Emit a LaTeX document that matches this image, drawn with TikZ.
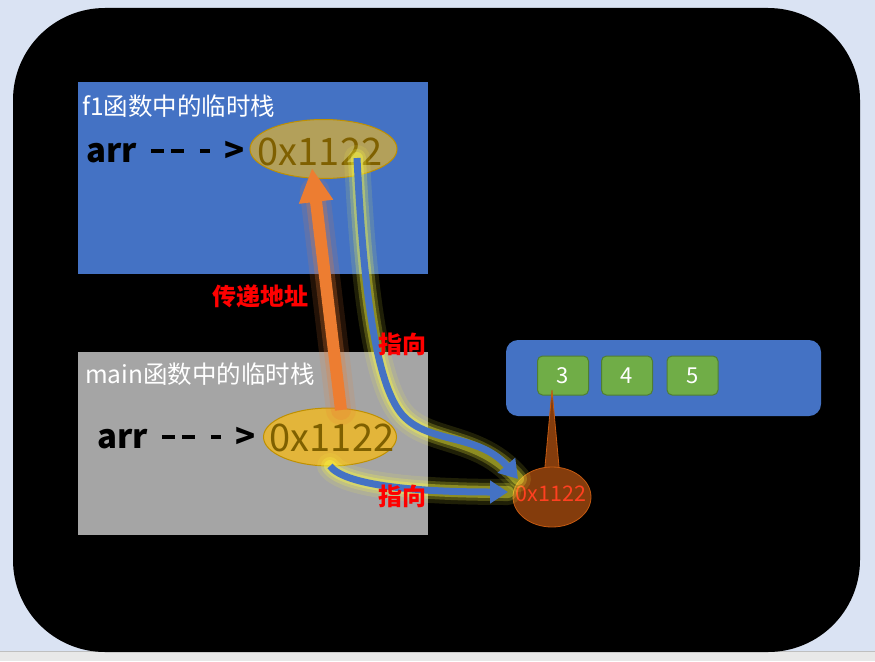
\documentclass[tikz,border=0pt]{standalone}
\usepackage{fontspec}
\setmainfont{Noto Sans CJK SC}
\usetikzlibrary{arrows.meta,shapes.geometric,calc}
\definecolor{bgblue}{HTML}{DAE3F3}
\definecolor{stackblue}{HTML}{4472C4}
\definecolor{stackgray}{HTML}{A5A5A5}
\definecolor{cellgreen}{HTML}{70AD47}
\definecolor{cellborder}{HTML}{507E32}
\definecolor{arrorange}{HTML}{ED7D31}
\definecolor{goldA}{HTML}{B3A05A}
\definecolor{goldB}{HTML}{E3B53A}
\definecolor{goldborder}{HTML}{BF9000}
\definecolor{olivetext}{HTML}{7F6000}
\definecolor{calloutbrown}{HTML}{843C0C}
\definecolor{calloutborder}{HTML}{C55A11}
\definecolor{callouttext}{HTML}{FF4020}
\definecolor{glowyellow}{HTML}{FFFF40}
\tikzset{
  stacklabel/.style={text=white, font=\fontsize{24.5}{27}\selectfont, anchor=west, inner sep=0pt},
  arrtext/.style={text=black, font=\bfseries\fontsize{33}{38}\selectfont, anchor=west, inner sep=0pt},
  addrell/.style={ellipse, draw=goldborder, line width=1pt, inner sep=0pt},
  addrtext/.style={text=olivetext, font=\fontsize{38}{42}\selectfont, inner sep=0pt},
  cellbox/.style={fill=cellgreen, draw=cellborder, line width=1pt, rounded corners=5pt, minimum width=51pt, minimum height=39pt, inner sep=0pt, text=white, font=\fontsize{22}{24}\selectfont},
  redlabel/.style={text=red, font=\bfseries\fontsize{24}{26}\selectfont, inner sep=0pt},
  bluearrow/.style={draw=stackblue, line width=7pt, -{Triangle[width=22pt,length=18pt]}},
  glowA/.style={draw=glowyellow, opacity=0.12, line width=26pt, line cap=round},
  glowB/.style={draw=glowyellow, opacity=0.22, line width=18pt, line cap=round},
  glowC/.style={draw=glowyellow, opacity=0.35, line width=12pt, line cap=round},
}
\newcommand{\dashbar}[1]{\raisebox{9.5pt}{\rule{#1}{3.6pt}}}
\newcommand{\arrdash}{arr\hspace{14pt}\dashbar{13pt}\hspace{7pt}\dashbar{13pt}\hspace{16pt}\dashbar{10pt}\hspace{15pt}>}
\begin{document}
\begin{tikzpicture}[x=1pt,y=-1pt]
\useasboundingbox (0,0) rectangle (875,661);
% page background
\fill[bgblue] (0,0) rectangle (875,661);
\fill[black!9] (0,651) rectangle (875,661);
\draw[black!25, line width=0.8pt] (0,651.5) -- (875,651.5);
% black slide
\fill[black, rounded corners=92pt] (13,8) rectangle (860,652);

% f1 stack
\fill[stackblue] (78,82) rectangle (428,274);
\node[stacklabel] (f1lab) at (82,106) {f1函数中的临时栈};
\node[arrtext] (f1arr) at (86,152) {\arrdash};
\node[addrell, fill=goldA, minimum width=147pt, minimum height=59pt] (f1ell) at (323.5,149) {};
\node[addrtext] (f1addr) at (320,152) {0x1122};

% main stack
\fill[stackgray] (78,352) rectangle (428,535);
\node[stacklabel] (mainlab) at (85,374) {main函数中的临时栈};
\node[arrtext] (mainarr) at (97,438) {\arrdash};
\node[addrell, fill=goldB, minimum width=133pt, minimum height=58pt] (mainell) at (330,437) {};
\node[addrtext] (mainaddr) at (332,438) {0x1122};

% array
\fill[stackblue, rounded corners=12pt] (506,340) rectangle (821,416);
\node[cellbox] (c3) at (563,375.5) {3};
\node[cellbox] (c4) at (627,375.5) {4};
\node[cellbox] (c5) at (692.5,375.5) {5};

% callout
\coordinate (ptip) at (552,390);
\fill[calloutbrown, draw=calloutborder, line width=0.8pt] (544.5,472) -- (ptip) -- (559.5,472) -- cycle;
\node[ellipse, fill=calloutbrown, draw=calloutborder, line width=0.8pt, minimum width=78pt, minimum height=60pt, inner sep=0pt] (callout) at (552,497) {};
\fill[calloutbrown] (546,470) rectangle (558,476);
\node[text=callouttext, font=\fontsize{21.5}{24}\selectfont, inner sep=0pt] (calltext) at (551,494) {0x1122};

% coordinates for connectors
\coordinate (oS) at (341,410);
\coordinate (oE) at (312,168);
\coordinate (b1S) at (357,158);
\coordinate (b1E) at (518,479);
\coordinate (b2S) at (330,466);
\coordinate (b2E) at (508,492);

% orange arrow with glow
\draw[draw=arrorange, opacity=0.15, line width=30pt, line cap=round] (oS) -- ($(oS)!0.9!(oE)$);
\draw[draw=arrorange, opacity=0.25, line width=20pt, line cap=round] (oS) -- ($(oS)!0.9!(oE)$);
\draw[draw=arrorange, line width=12pt, -{Triangle[width=32pt,length=34pt]}] (oS) -- (oE);

% blue arrow 1 with glow
\foreach \g in {glowA,glowB,glowC}
  \draw[\g] (b1S) .. controls (362,260) and (372,375) .. (400,412) .. controls (425,445) and (478,432) .. (b1E);
\draw[bluearrow] (b1S) .. controls (362,260) and (372,375) .. (400,412) .. controls (425,445) and (478,432) .. (b1E);

% blue arrow 2 with glow
\foreach \g in {glowA,glowB,glowC}
  \draw[\g] (b2S) .. controls (345,486) and (420,492) .. (b2E);
\draw[bluearrow] (b2S) .. controls (345,486) and (420,492) .. (b2E);

% labels
\node[redlabel] (lpass) at (260,296) {传递地址};
\node[redlabel] (lpt1) at (402,344) {指向};
\node[redlabel] (lpt2) at (402,496) {指向};
\end{tikzpicture}
\end{document}
